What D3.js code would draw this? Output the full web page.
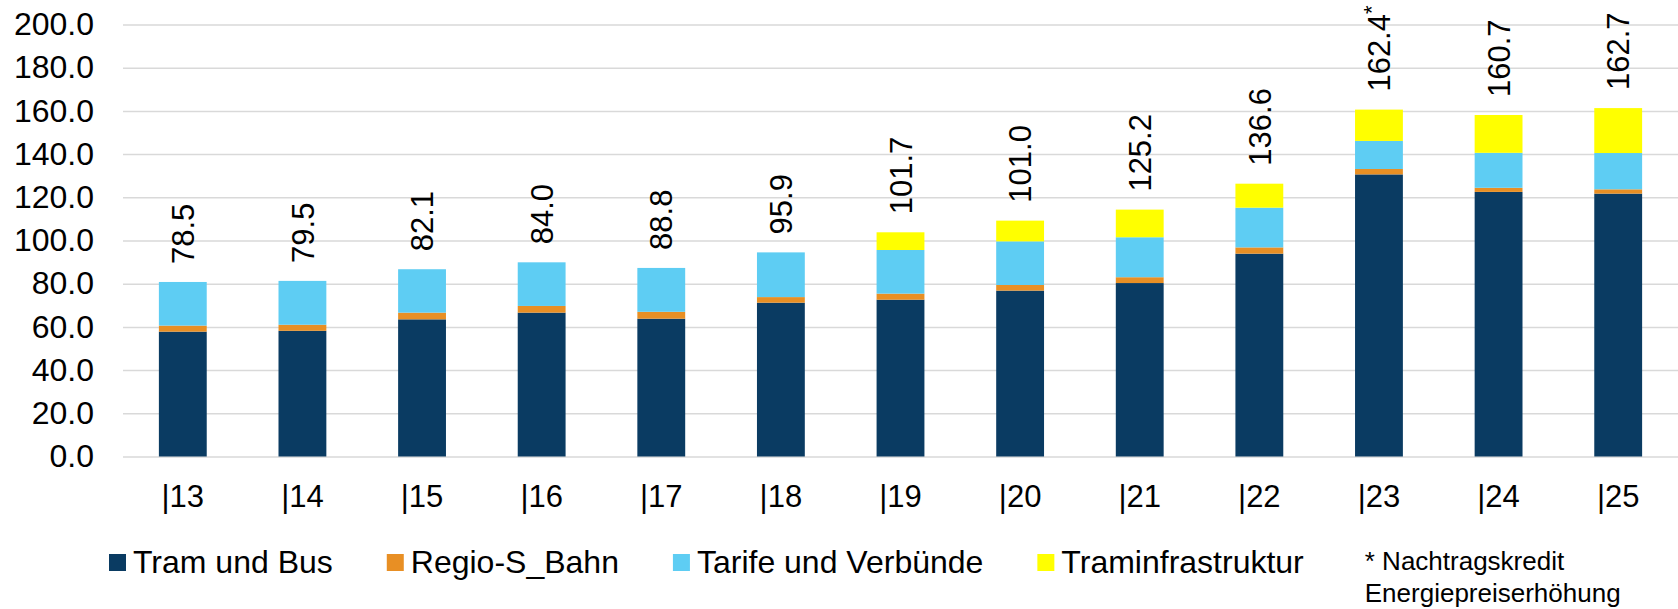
<!DOCTYPE html>
<html lang="de">
<head>
    <meta charset="UTF-8" />
    <title>ÖV Budget gestapelt</title>
    <script src="https://d3js.org/d3.v7.min.js"></script>
    <style>
        body { margin: 0; background: #ffffff; }
        text { font-family: "Liberation Sans", Arial, sans-serif; fill: #000000; }
    </style>
</head>
<body>
    <script>
        var w = 1678;
        var h = 609;

        // data
        var years = ["|13", "|14", "|15", "|16", "|17", "|18", "|19", "|20", "|21", "|22", "|23", "|24", "|25"];
        var tramBus    = [57.8, 58.2, 63.5, 66.6, 63.8, 71.2, 72.6, 76.8, 80.3, 93.9, 130.6, 122.5, 121.7];
        var regioSBahn = [2.8, 2.8, 3.1, 3.1, 3.2, 2.6, 2.8, 2.6, 2.7, 2.9, 2.5, 1.9, 2.0];
        var tarife     = [20.2, 20.3, 20.1, 20.2, 20.3, 20.7, 20.2, 20.2, 18.5, 18.4, 13.0, 16.2, 16.8];
        var tramInfra  = [0, 0, 0, 0, 0, 0, 8.2, 9.6, 12.8, 11.1, 14.5, 17.5, 20.8];
        var totalLabels = ["78.5", "79.5", "82.1", "84.0", "88.8", "95.9", "101.7", "101.0", "125.2", "136.6", "162.4", "160.7", "162.7"];
        var starred = ["|23"];
        var seriesNames = ["Tram und Bus", "Regio-S_Bahn", "Tarife und Verbünde", "Traminfrastruktur"];
        var yTicks = [0, 20, 40, 60, 80, 100, 120, 140, 160, 180, 200];
        var footnote = ["* Nachtragskredit", "Energiepreiserhöhung"];

        var colors = ["#0a3b62", "#e88f24", "#5ecdf3", "#ffff00"];

        var rows = years.map(function(y, i) {
            return {
                year: y,
                "Tram und Bus": tramBus[i],
                "Regio-S_Bahn": regioSBahn[i],
                "Tarife und Verbünde": tarife[i],
                "Traminfrastruktur": tramInfra[i],
                label: totalLabels[i]
            };
        });

        var svg = d3.select("body")
            .append("svg")
            .attr("width", w)
            .attr("height", h);

        // Scales
        var xScale = d3.scaleBand()
            .domain(years)
            .range([123, 1678])
            .paddingInner(0.6)
            .paddingOuter(0.3);

        var yScale = d3.scaleLinear()
            .domain([0, 200])
            .range([456.5, 24.5]);

        var color = d3.scaleOrdinal()
            .domain(seriesNames)
            .range(colors);

        // gridlines + y labels
        var yAxis = d3.axisLeft(yScale)
            .tickValues(yTicks)
            .tickSize(-(1678 - 123))
            .tickPadding(29)
            .tickFormat(d3.format(".1f"));

        var gy = svg.append("g")
            .attr("transform", "translate(123,0)")
            .call(yAxis);
        gy.select(".domain").remove();
        gy.selectAll(".tick line")
            .attr("stroke", "#d9d9d9")
            .attr("stroke-width", 1.5);
        gy.selectAll(".tick text")
            .attr("font-size", 32)
            .attr("font-family", "Liberation Sans, Arial, sans-serif")
            .attr("fill", "#000");

        // stacked bars
        var stack = d3.stack().keys(seriesNames);
        var layers = stack(rows);

        svg.append("g")
            .selectAll("g")
            .data(layers)
            .enter()
            .append("g")
            .attr("fill", function(d) { return color(d.key); })
            .selectAll("rect")
            .data(function(d) { return d; })
            .enter()
            .append("rect")
            .attr("x", function(d) { return xScale(d.data.year); })
            .attr("y", function(d) { return yScale(d[1]); })
            .attr("width", xScale.bandwidth())
            .attr("height", function(d) { return yScale(d[0]) - yScale(d[1]); });

        // x labels
        var xAxis = d3.axisBottom(xScale).tickSize(0).tickPadding(0);
        var gx = svg.append("g")
            .attr("transform", "translate(0,456.5)")
            .call(xAxis);
        gx.select(".domain").remove();
        gx.selectAll(".tick text")
            .attr("font-size", 31)
            .attr("font-family", "Liberation Sans, Arial, sans-serif")
            .attr("fill", "#000")
            .attr("dy", null)
            .attr("y", 50);

        // total labels (rotated)
        var labels = svg.append("g")
            .selectAll("text")
            .data(rows)
            .enter()
            .append("text")
            .attr("transform", function(d) {
                var top = d["Tram und Bus"] + d["Regio-S_Bahn"] + d["Tarife und Verbünde"] + d["Traminfrastruktur"];
                return "translate(" + (xScale(d.year) + xScale.bandwidth() / 2) + "," + (yScale(top) - 18) + ") rotate(-90)";
            })
            .attr("dy", "0.36em")
            .attr("font-size", 31)
            .attr("text-anchor", "start");

        labels.append("tspan").text(function(d) { return d.label; });
        labels.filter(function(d) { return starred.indexOf(d.year) >= 0; })
            .append("tspan")
            .attr("font-size", 22)
            .attr("dy", "-0.5em")
            .text("*");

        // legend
        var legend = svg.append("g");
        var lx = 109;
        seriesNames.forEach(function(name) {
            legend.append("rect")
                .attr("x", lx)
                .attr("y", 554)
                .attr("width", 17)
                .attr("height", 17)
                .attr("fill", color(name));
            var t = legend.append("text")
                .attr("x", lx + 24)
                .attr("y", 573)
                .attr("font-size", 32)
                .text(name);
            lx = lx + 24 + t.node().getComputedTextLength() + 54;
        });

        var fn = svg.append("text")
            .attr("x", lx + 7)
            .attr("y", 570)
            .attr("font-size", 26);
        fn.selectAll("tspan")
            .data(footnote)
            .enter()
            .append("tspan")
            .attr("x", lx + 7)
            .attr("dy", function(d, i) { return i === 0 ? 0 : 32; })
            .text(function(d) { return d; });
    </script>
</body>
</html>
